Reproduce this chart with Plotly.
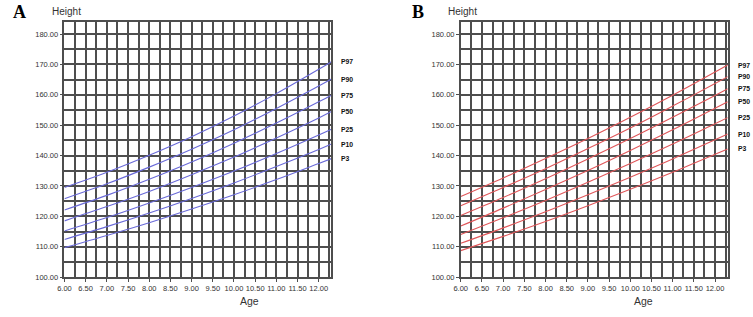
import plotly.graph_objects as go

# ---- data ----
ages = [6.0, 7.0, 8.0, 9.0, 10.0, 11.0, 12.0, 12.3]
percentiles = ["P97", "P90", "P75", "P50", "P25", "P10", "P3"]

# Panel A (blue)
a_p97 = [129.5, 134.5, 140.1, 146.2, 153.0, 160.4, 168.4, 170.9]
a_p90 = [125.8, 130.7, 136.2, 142.1, 148.5, 155.5, 162.9, 165.2]
a_p75 = [122.1, 126.9, 132.2, 137.9, 144.1, 150.7, 157.7, 159.9]
a_p50 = [118.5, 123.2, 128.2, 133.7, 139.5, 145.8, 152.4, 154.5]
a_p25 = [115.2, 119.6, 124.4, 129.5, 134.9, 140.7, 146.8, 148.7]
a_p10 = [112.4, 116.6, 121.1, 125.9, 131.0, 136.4, 142.0, 143.8]
a_p3 = [109.7, 113.7, 117.9, 122.4, 127.1, 132.1, 137.4, 139.0]

# Panel B (red)
b_p97 = [126.5, 132.6, 139.0, 145.6, 152.6, 159.9, 167.5, 169.8]
b_p90 = [123.5, 129.5, 135.7, 142.3, 149.1, 156.3, 163.7, 166.0]
b_p75 = [120.3, 126.2, 132.4, 138.9, 145.6, 152.6, 159.8, 162.0]
b_p50 = [116.8, 122.7, 128.8, 135.1, 141.7, 148.5, 155.6, 157.7]
b_p25 = [114.0, 119.5, 125.2, 131.2, 137.4, 143.8, 150.5, 152.5]
b_p10 = [111.1, 116.2, 121.5, 127.1, 132.9, 138.9, 145.2, 147.1]
b_p3 = [108.7, 113.4, 118.3, 123.5, 128.9, 134.5, 140.4, 142.2]

panel_a = [a_p97, a_p90, a_p75, a_p50, a_p25, a_p10, a_p3]
panel_b = [b_p97, b_p90, b_p75, b_p50, b_p25, b_p10, b_p3]

x_range = [6.0, 12.3]
y_range = [100.0, 184.1]

W, H = 753, 317
blue = "#6a6ad8"
red = "#e0575a"
grid = "#4e4e4e"
tickcol = "#333333"
font_fam = "Liberation Sans, Arial, sans-serif"

fig = go.Figure()

for vals, name in zip(panel_a, percentiles):
    fig.add_trace(go.Scatter(x=ages, y=vals, mode="lines", name=name,
                             line=dict(color=blue, width=1.1, shape="spline"),
                             xaxis="x", yaxis="y", showlegend=False))
for vals, name in zip(panel_b, percentiles):
    fig.add_trace(go.Scatter(x=ages, y=vals, mode="lines", name=name,
                             line=dict(color=red, width=1.1, shape="spline"),
                             xaxis="x2", yaxis="y2", showlegend=False))


def xax(domain, anchor):
    return dict(domain=domain, anchor=anchor, range=x_range, tick0=6, dtick=0.5,
                tickformat=".2f", showgrid=True, gridcolor=grid, gridwidth=1.5,
                minor=dict(dtick=0.25, tick0=6, showgrid=True, gridcolor=grid, gridwidth=1.5),
                ticks="outside", ticklen=3, tickcolor=grid, tickwidth=1,
                showline=True, linecolor=grid, linewidth=1.5, mirror=True,
                zeroline=False, tickfont=dict(family=font_fam, size=7.5, color=tickcol))


def yax(domain, anchor):
    return dict(domain=domain, anchor=anchor, range=y_range, tick0=100, dtick=10,
                tickformat=".2f", showgrid=True, gridcolor=grid, gridwidth=1.5,
                minor=dict(dtick=5, tick0=100, showgrid=True, gridcolor=grid, gridwidth=1.5),
                ticks="outside", ticklen=3, tickcolor=grid, tickwidth=1,
                showline=True, linecolor=grid, linewidth=1.5, mirror=True,
                zeroline=False, tickfont=dict(family=font_fam, size=7.5, color=tickcol))


ydom = [1 - 281.5 / H, 1 - 22 / H]
fig.update_layout(
    width=W, height=H,
    margin=dict(l=0, r=0, t=0, b=0),
    paper_bgcolor="white", plot_bgcolor="white",
    xaxis=xax([58 / W, 327.5 / W], "y"),
    yaxis=yax(ydom, "x"),
    xaxis2=xax([458 / W, 727.5 / W], "y2"),
    yaxis2=yax(ydom, "x2"),
)

ann = []
for vals, name in zip(panel_a, percentiles):
    ann.append(dict(x=x_range[1], y=vals[-1], xref="x", yref="y", text="<b>" + name + "</b>",
                    showarrow=False, xanchor="left", xshift=8,
                    font=dict(family=font_fam, size=6.8, color="#111111")))
for vals, name in zip(panel_b, percentiles):
    ann.append(dict(x=x_range[1], y=vals[-1], xref="x2", yref="y2", text="<b>" + name + "</b>",
                    showarrow=False, xanchor="left", xshift=8,
                    font=dict(family=font_fam, size=6.8, color="#111111")))

for letter, px, hx, agex in [("A", 12.5, 43, 245), ("B", 414.5, 443, 642)]:
    ann.append(dict(x=px / W, y=1 - 12.5 / H, xref="paper", yref="paper", text="<b>" + letter + "</b>",
                    showarrow=False, xanchor="center", yanchor="middle",
                    font=dict(family="Liberation Serif, Times New Roman, serif", size=18, color="black")))
    ann.append(dict(x=hx / W, y=1 - 11.5 / H, xref="paper", yref="paper", text="Height",
                    showarrow=False, xanchor="left", yanchor="middle",
                    font=dict(family=font_fam, size=10, color="#333333")))
    ann.append(dict(x=agex / W, y=1 - 306 / H, xref="paper", yref="paper", text="Age",
                    showarrow=False, xanchor="center", yanchor="middle",
                    font=dict(family=font_fam, size=10.5, color="#333333")))

fig.update_layout(annotations=ann)

fig.write_html("out.html", config={"displayModeBar": False},
               post_script="document.body.style.margin='0';document.body.style.overflow='hidden';")
